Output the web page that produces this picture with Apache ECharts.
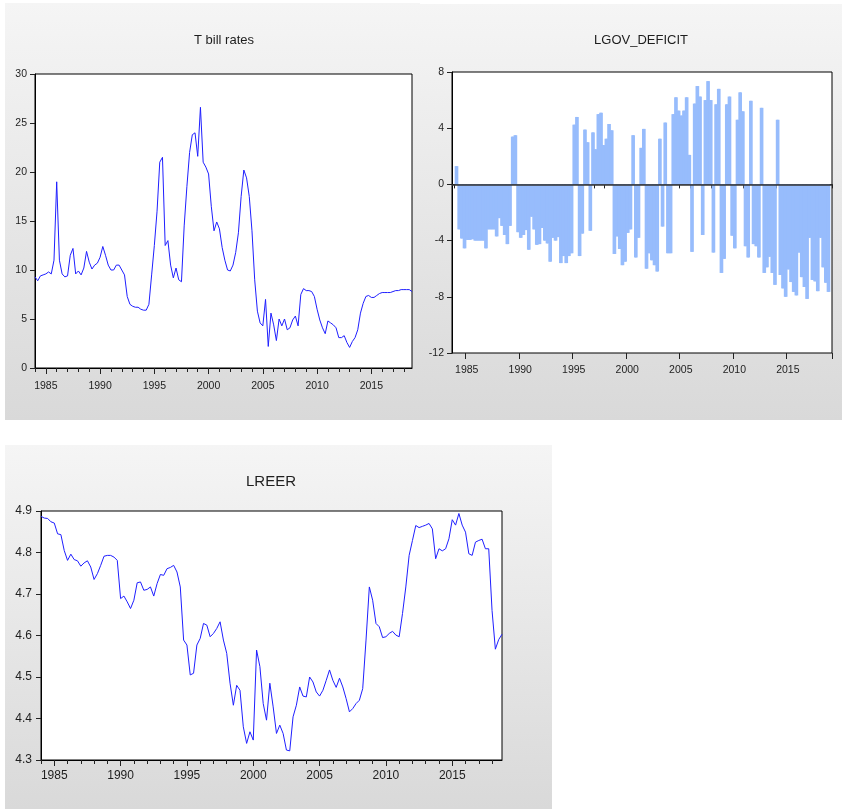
<!DOCTYPE html>
<html><head><meta charset="utf-8">
<script src="https://cdn.jsdelivr.net/npm/echarts@6/dist/echarts.min.js"></script>
<style>
html,body{margin:0;padding:0;background:#fff;}
#wrap{position:relative;width:842px;height:809px;overflow:hidden;}
.panel{position:absolute;background:linear-gradient(#f5f5f5,#d9d9d9);}
#chart{position:absolute;left:0;top:0;width:842px;height:809px;}
</style></head>
<body><div id="wrap">
<div class="panel" style="left:5px;top:3px;width:415px;height:417px"></div>
<div class="panel" style="left:420px;top:4px;width:422px;height:416px"></div>
<div class="panel" style="left:5px;top:445px;width:547px;height:364px"></div>
<div id="chart"></div>
</div>
<script>
// Quarterly observations 1984Q1 .. 2018Q4
const quarters = [];
for (let y = 1984; y <= 2018; y++) for (let q = 1; q <= 4; q++) quarters.push(y + 'Q' + q);

const titles = ['T bill rates', 'LGOV_DEFICIT', 'LREER'];

const tbill = [
  9.3, 8.9, 9.4, 9.5,   9.6, 9.8, 9.6, 11.0,   19.0, 11.0, 9.6, 9.3,   9.4, 11.5, 12.2, 9.6,
  9.9, 9.5, 10.2, 11.9, 10.8, 10.1, 10.5, 10.7, 11.3, 12.4, 11.5, 10.5, 10.0, 10.0, 10.5, 10.5,
  10.0, 9.5, 7.3, 6.5,  6.3, 6.2, 6.2, 6.0,    5.9, 5.9, 6.5, 9.5,     12.5, 16.0, 21.0, 21.5,
  12.5, 13.0, 10.5, 9.2, 10.2, 9.0, 8.8, 14.5, 18.5, 22.0, 23.8, 24.0, 21.6, 26.6, 21.0, 20.5,
  19.8, 16.5, 14.0, 14.9, 14.2, 12.3, 11.0, 10.0, 9.9, 10.5, 11.8, 13.8, 17.5, 20.2, 19.4, 17.5,
  14.0, 9.0, 5.8, 4.6,  4.3, 7.0, 2.2, 5.6,    4.4, 2.8, 5.0, 4.3,     5.0, 3.9, 4.1, 4.9,
  5.3, 4.3, 7.5, 8.1,   7.9, 7.9, 7.8, 7.3,    6.0, 4.9, 4.1, 3.5,     4.8, 4.6, 4.4, 4.1,
  3.1, 3.1, 3.3, 2.6,   2.1, 2.7, 3.1, 3.9,    5.6, 6.6, 7.3, 7.4,     7.2, 7.2, 7.4, 7.6,
  7.7, 7.7, 7.7, 7.7,   7.8, 7.9, 7.9, 8.0,    8.0, 8.0, 8.0, 7.8
];

const deficit = [
  1.3, -3.2, -3.85, -4.55,  -3.95, -3.95, -3.9, -4.0,  -4.0, -4.0, -4.0, -4.55,  -3.2, -3.2, -3.2, -3.7,
  -2.4, -2.95, -3.6, -4.25, -2.95, 3.4, 3.5, -3.4,     -3.8, -3.6, -3.25, -4.65, -2.3, -3.2, -4.3, -4.25,
  -3.1, -4.0, -4.2, -5.5,   -3.8, -4.0, -3.75, -5.6,   -5.1, -5.6, -5.1, -4.9,   4.25, 4.8, -5.1, -3.5,
  3.9, 3.0, -3.3, 3.7,      2.5, 5.0, 5.1, 2.8,        3.25, 4.3, 3.85, -4.95,   -3.7, -4.6, -5.75, -5.5,
  -3.45, -3.2, 3.5, -5.2,   -3.8, 2.6, 3.95, -6.0,     -4.9, -5.4, -5.75, -6.2,  3.25, -3.0, 4.4, -4.9,
  -4.9, 5.0, 6.2, 5.25,     4.9, 5.25, 6.2, 2.1,       -4.8, 5.75, 7.0, 6.25,    -3.6, 6.0, 7.35, 6.0,
  -4.85, 5.7, 6.8, -6.3,    -5.3, 5.7, 6.25, -3.65,    -4.55, 4.6, 6.55, 5.2,    -4.4, -5.2, 5.95, -4.25,
  -4.4, -5.2, 5.45, -6.3,   -5.9, -5.15, -6.3, -7.15,  4.6, -6.45, -7.4, -8.0,   -6.05, -6.95, -7.65, -7.9,
  -4.85, -6.6, -7.3, -8.15, -3.8, -6.8, -6.9, -7.6,    -3.8, -5.9, -7.0, -7.65
];

const lreer = [
  4.887, 4.883, 4.882, 4.874, 4.871, 4.845, 4.843, 4.805, 4.781, 4.796, 4.783, 4.780, 4.767, 4.775, 4.780, 4.765,
  4.735, 4.749, 4.769, 4.791, 4.793, 4.793, 4.789, 4.781, 4.689, 4.695, 4.681, 4.665, 4.685, 4.727, 4.729, 4.709,
  4.711, 4.717, 4.695, 4.725, 4.747, 4.745, 4.761, 4.764, 4.769, 4.753, 4.717, 4.589, 4.577, 4.505, 4.509, 4.577,
  4.593, 4.629, 4.625, 4.597, 4.605, 4.617, 4.633, 4.589, 4.557, 4.485, 4.432, 4.480, 4.468, 4.380, 4.340, 4.368,
  4.348, 4.565, 4.525, 4.436, 4.396, 4.485, 4.428, 4.364, 4.384, 4.364, 4.324, 4.322, 4.404, 4.432, 4.476, 4.454,
  4.452, 4.500, 4.488, 4.464, 4.454, 4.468, 4.492, 4.517, 4.492, 4.475, 4.497, 4.476, 4.448, 4.416, 4.424, 4.436,
  4.444, 4.472, 4.589, 4.717, 4.685, 4.629, 4.621, 4.595, 4.597, 4.605, 4.610, 4.601, 4.597, 4.653, 4.717, 4.793,
  4.829, 4.865, 4.860, 4.863, 4.866, 4.870, 4.857, 4.785, 4.809, 4.804, 4.809, 4.833, 4.879, 4.866, 4.894, 4.866,
  4.849, 4.797, 4.793, 4.825, 4.829, 4.832, 4.809, 4.809, 4.660, 4.567, 4.590, 4.603
];

const FONT = "'Liberation Sans', Arial, sans-serif";
const TXT = '#1e1e1e';
const LINE = '#1f1fff';
const BAR = '#97bcfc';

// bar panel uses one empty slot on each side, as in the original
const barCats = [''].concat(quarters, ['']);
const barData = ['-'].concat(deficit, ['-']);

const isQ1 = (i, v) => typeof v === 'string' && v.slice(4) === 'Q1';
const isMajor = (i, v) => isQ1(i, v) && (+v.slice(0, 4)) % 5 === 0;

function xMain(grid, cats, gap, fs, margin) {
  return {
    type: 'category', gridIndex: grid, data: cats, boundaryGap: gap, position: 'bottom',
    axisLine: { show: true, lineStyle: { color: '#000', width: 1 } },
    axisTick: { show: true, inside: false, length: 4, interval: isQ1, lineStyle: { color: '#222' } },
    axisLabel: { show: true, interval: isMajor, formatter: v => v.slice(0, 4), margin: margin,
      color: TXT, fontSize: fs, fontFamily: FONT },
    splitLine: { show: false }
  };
}
function xMajor(grid, cats, gap) {
  return {
    type: 'category', gridIndex: grid, data: cats, boundaryGap: gap, position: 'bottom',
    axisLine: { show: false },
    axisTick: { show: true, inside: false, length: 6, interval: isMajor, lineStyle: { color: '#222' } },
    axisLabel: { show: false }, splitLine: { show: false }
  };
}
function yAx(grid, min, max, interval, margin, fs, fmt) {
  return {
    type: 'value', gridIndex: grid, min: min, max: max, interval: interval,
    axisLine: { show: true, lineStyle: { color: '#000', width: 1 } },
    axisTick: { show: true, inside: false, length: 5, lineStyle: { color: '#222' } },
    axisLabel: { margin: margin, color: TXT, fontSize: fs, fontFamily: FONT, formatter: fmt },
    splitLine: { show: false }
  };
}
const gridStyle = { show: true, backgroundColor: '#fff', borderColor: '#000', borderWidth: 1, containLabel: false };
function titleText(x, y, text, fs) {
  return { type: 'text', x: x, y: y, style: { text: text, align: 'center', verticalAlign: 'middle',
    fontSize: fs, fontFamily: FONT, fill: TXT } };
}

const chart = echarts.init(document.getElementById('chart'), null, { renderer: 'canvas' });
chart.setOption({
  animation: false,
  backgroundColor: 'transparent',
  graphic: [
    titleText(224, 40, titles[0], 13),
    titleText(641, 40, titles[1], 13),
    titleText(271, 482, titles[2], 15)
  ],
  grid: [
    Object.assign({ left: 35, top: 74, width: 377, height: 294 }, gridStyle),
    Object.assign({ left: 452, top: 72, width: 380, height: 281 }, gridStyle),
    Object.assign({ left: 41, top: 511, width: 461, height: 249 }, gridStyle)
  ],
  xAxis: [
    xMain(0, quarters, false, 10.5, 13), xMajor(0, quarters, false),
    xMain(1, barCats, true, 10.5, 12), xMajor(1, barCats, true),
    xMain(2, quarters, false, 12, 9.5), xMajor(2, quarters, false)
  ],
  yAxis: [
    yAx(0, 0, 30, 5, 8, 10.5, v => String(v)),
    yAx(1, -12, 8, 4, 8, 10.5, v => String(v)),
    yAx(2, 4.3, 4.9, 0.1, 9, 12, v => v.toFixed(1))
  ],
  series: [
    { type: 'line', name: titles[0], xAxisIndex: 0, yAxisIndex: 0, data: tbill, showSymbol: false,
      lineStyle: { color: LINE, width: 1 }, itemStyle: { color: LINE } },
    { type: 'bar', name: titles[1], xAxisIndex: 2, yAxisIndex: 1, data: barData, barCategoryGap: '0%',
      itemStyle: { color: BAR, shadowColor: BAR, shadowBlur: 0, shadowOffsetX: 1, shadowOffsetY: 0 },
      markLine: { silent: true, symbol: 'none', label: { show: false },
        lineStyle: { color: '#333', width: 1.5, type: 'solid' }, data: [{ yAxis: 0 }] } },
    { type: 'line', name: titles[2], xAxisIndex: 4, yAxisIndex: 2, data: lreer, showSymbol: false,
      lineStyle: { color: LINE, width: 1 }, itemStyle: { color: LINE } }
  ]
});
</script>
</body></html>
